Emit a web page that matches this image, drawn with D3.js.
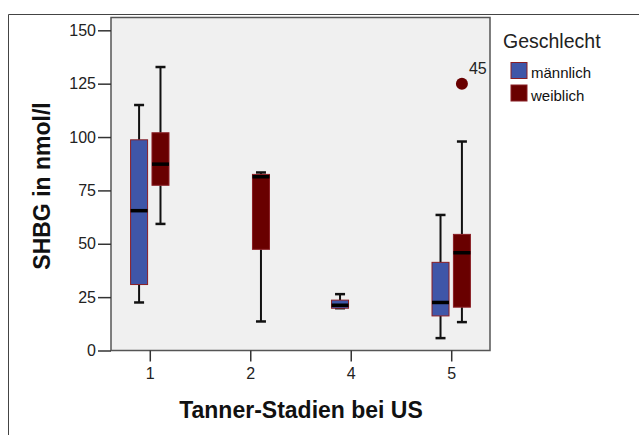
<!DOCTYPE html>
<html>
<head>
<meta charset="utf-8">
<script src="https://cdn.jsdelivr.net/npm/d3@7"></script>
<style>
  html, body { margin: 0; padding: 0; background: #fff; }
  svg { display: block; font-family: "Liberation Sans", Arial, sans-serif; }
</style>
</head>
<body>
<svg id="chart" width="639" height="435"></svg>
<script>
// Tanner stages on the x axis
const categories = ["1", "2", "4", "5"];
const groups = ["männlich", "weiblich"];
const groupColors = ["#3F56A8", "#690000"];

// Box statistics per category (null = no data for that group)
const maleWhiskerLow  = [22.5, null, 19.8, 5.8];
const maleQ1          = [30.9, null, 19.8, 16.2];
const maleMedian      = [65.5, null, 21.2, 22.5];
const maleQ3          = [98.7, null, 23.6, 41.3];
const maleWhiskerHigh = [115,  null, 26.4, 63.5];

const femaleWhiskerLow  = [59.3, 13.6, null, 13.3];
const femaleQ1          = [77.4, 47.4, null, 20.3];
const femaleMedian      = [87.3, 81.4, null, 45.8];
const femaleQ3          = [102,  82.5, null, 54.4];
const femaleWhiskerHigh = [132.8, 83.4, null, 97.9];

// Outliers
const outlierCategory = ["5"];
const outlierGroup = ["weiblich"];
const outlierValue = [125];
const outlierLabel = ["45"];

const yTicks = [0, 25, 50, 75, 100, 125, 150];

const svg = d3.select("#chart");

// outer frame
svg.append("path")
  .attr("d", "M8.5,435 V14.5 H639")
  .attr("fill", "none").attr("stroke", "#444").attr("stroke-width", 1);

const plot = { left: 111, right: 490, top: 17.5, bottom: 350.5 };

const x = d3.scalePoint().domain(categories)
  .range([plot.left, plot.right]).padding(0.386);
const y = d3.scaleLinear().domain([0, 156]).range([plot.bottom, plot.top]);
const offset = d3.scaleOrdinal().domain(groups).range([-10.7, 10.7]);
const color = d3.scaleOrdinal().domain(groups).range(groupColors);
const boxW = 17;

// plot background
svg.append("rect")
  .attr("x", plot.left).attr("y", plot.top)
  .attr("width", plot.right - plot.left).attr("height", plot.bottom - plot.top)
  .attr("fill", "#F0F0F0");

// build box records from the arrays
const boxes = [];
categories.forEach((c, i) => {
  if (maleMedian[i] != null) boxes.push({ cat: c, group: groups[0],
    lo: maleWhiskerLow[i], q1: maleQ1[i], med: maleMedian[i], q3: maleQ3[i], hi: maleWhiskerHigh[i] });
  if (femaleMedian[i] != null) boxes.push({ cat: c, group: groups[1],
    lo: femaleWhiskerLow[i], q1: femaleQ1[i], med: femaleMedian[i], q3: femaleQ3[i], hi: femaleWhiskerHigh[i] });
});
const cx = d => x(d.cat) + offset(d.group);

const g = svg.append("g");
const bx = g.selectAll("g.box").data(boxes).join("g").attr("class", "box");

// whiskers
bx.append("line")
  .attr("x1", cx).attr("x2", cx)
  .attr("y1", d => y(d.hi)).attr("y2", d => y(d.q3))
  .attr("stroke", "#111").attr("stroke-width", 2);
bx.append("line")
  .attr("x1", cx).attr("x2", cx)
  .attr("y1", d => y(d.q1)).attr("y2", d => y(d.lo))
  .attr("stroke", "#111").attr("stroke-width", 2);
// caps
[d => d.hi, d => d.lo].forEach(f => {
  bx.append("line")
    .attr("x1", d => cx(d) - 5).attr("x2", d => cx(d) + 5)
    .attr("y1", d => y(f(d))).attr("y2", d => y(f(d)))
    .attr("stroke", "#111").attr("stroke-width", 2.5);
});
// boxes
bx.append("rect")
  .attr("x", d => cx(d) - boxW / 2)
  .attr("y", d => y(d.q3))
  .attr("width", boxW)
  .attr("height", d => y(d.q1) - y(d.q3))
  .attr("fill", d => color(d.group))
  .attr("stroke", "#8A1E24").attr("stroke-width", 1);
// medians
bx.append("line")
  .attr("x1", d => cx(d) - boxW / 2).attr("x2", d => cx(d) + boxW / 2)
  .attr("y1", d => y(d.med)).attr("y2", d => y(d.med))
  .attr("stroke", "#000").attr("stroke-width", 3.5);

// outliers
const outliers = outlierValue.map((v, i) => ({
  cat: outlierCategory[i], group: outlierGroup[i], value: v, label: outlierLabel[i] }));
g.selectAll("circle.outlier").data(outliers).join("circle")
  .attr("class", "outlier")
  .attr("cx", cx).attr("cy", d => y(d.value)).attr("r", 6)
  .attr("fill", d => color(d.group));
g.selectAll("text.outlier").data(outliers).join("text")
  .attr("class", "outlier")
  .attr("x", d => cx(d) + 7).attr("y", d => y(d.value) - 10)
  .attr("font-size", 16).attr("fill", "#222")
  .text(d => d.label);

// plot border
svg.append("rect")
  .attr("x", plot.left).attr("y", plot.top)
  .attr("width", plot.right - plot.left).attr("height", plot.bottom - plot.top)
  .attr("fill", "none").attr("stroke", "#555").attr("stroke-width", 1.5);

// axes
const yAxis = svg.append("g")
  .attr("transform", `translate(${plot.left},0)`)
  .call(d3.axisLeft(y).tickValues(yTicks).tickSize(13).tickPadding(2));
const xAxis = svg.append("g")
  .attr("transform", `translate(0,${plot.bottom})`)
  .call(d3.axisBottom(x).tickSize(11).tickPadding(6));
[yAxis, xAxis].forEach(a => {
  a.select(".domain").remove();
  a.selectAll(".tick line").attr("stroke", "#333").attr("stroke-width", 1.5);
  a.selectAll(".tick text").attr("font-size", 16).attr("fill", "#222")
    .attr("font-family", "Liberation Sans, Arial, sans-serif");
});

// axis titles
svg.append("text")
  .attr("x", 301).attr("y", 418)
  .attr("text-anchor", "middle").attr("font-size", 23).attr("font-weight", "bold")
  .attr("fill", "#111")
  .text("Tanner-Stadien bei US");
svg.append("text")
  .attr("transform", "translate(50,186) rotate(-90)")
  .attr("text-anchor", "middle").attr("font-size", 23).attr("font-weight", "bold")
  .attr("fill", "#111")
  .text("SHBG in nmol/l");

// legend
const legend = svg.append("g");
legend.append("text")
  .attr("x", 503).attr("y", 48)
  .attr("font-size", 19.5).attr("fill", "#222")
  .text("Geschlecht");
const li = legend.selectAll("g.item").data(groups).join("g")
  .attr("class", "item")
  .attr("transform", (d, i) => `translate(511,${62.5 + i * 22.5})`);
li.append("rect")
  .attr("width", 16).attr("height", 16)
  .attr("fill", d => color(d))
  .attr("stroke", "#8A1E24").attr("stroke-width", 1);
li.append("text")
  .attr("x", 20).attr("y", 15.5)
  .attr("font-size", 15).attr("fill", "#111")
  .text(d => d);
</script>
</body>
</html>
